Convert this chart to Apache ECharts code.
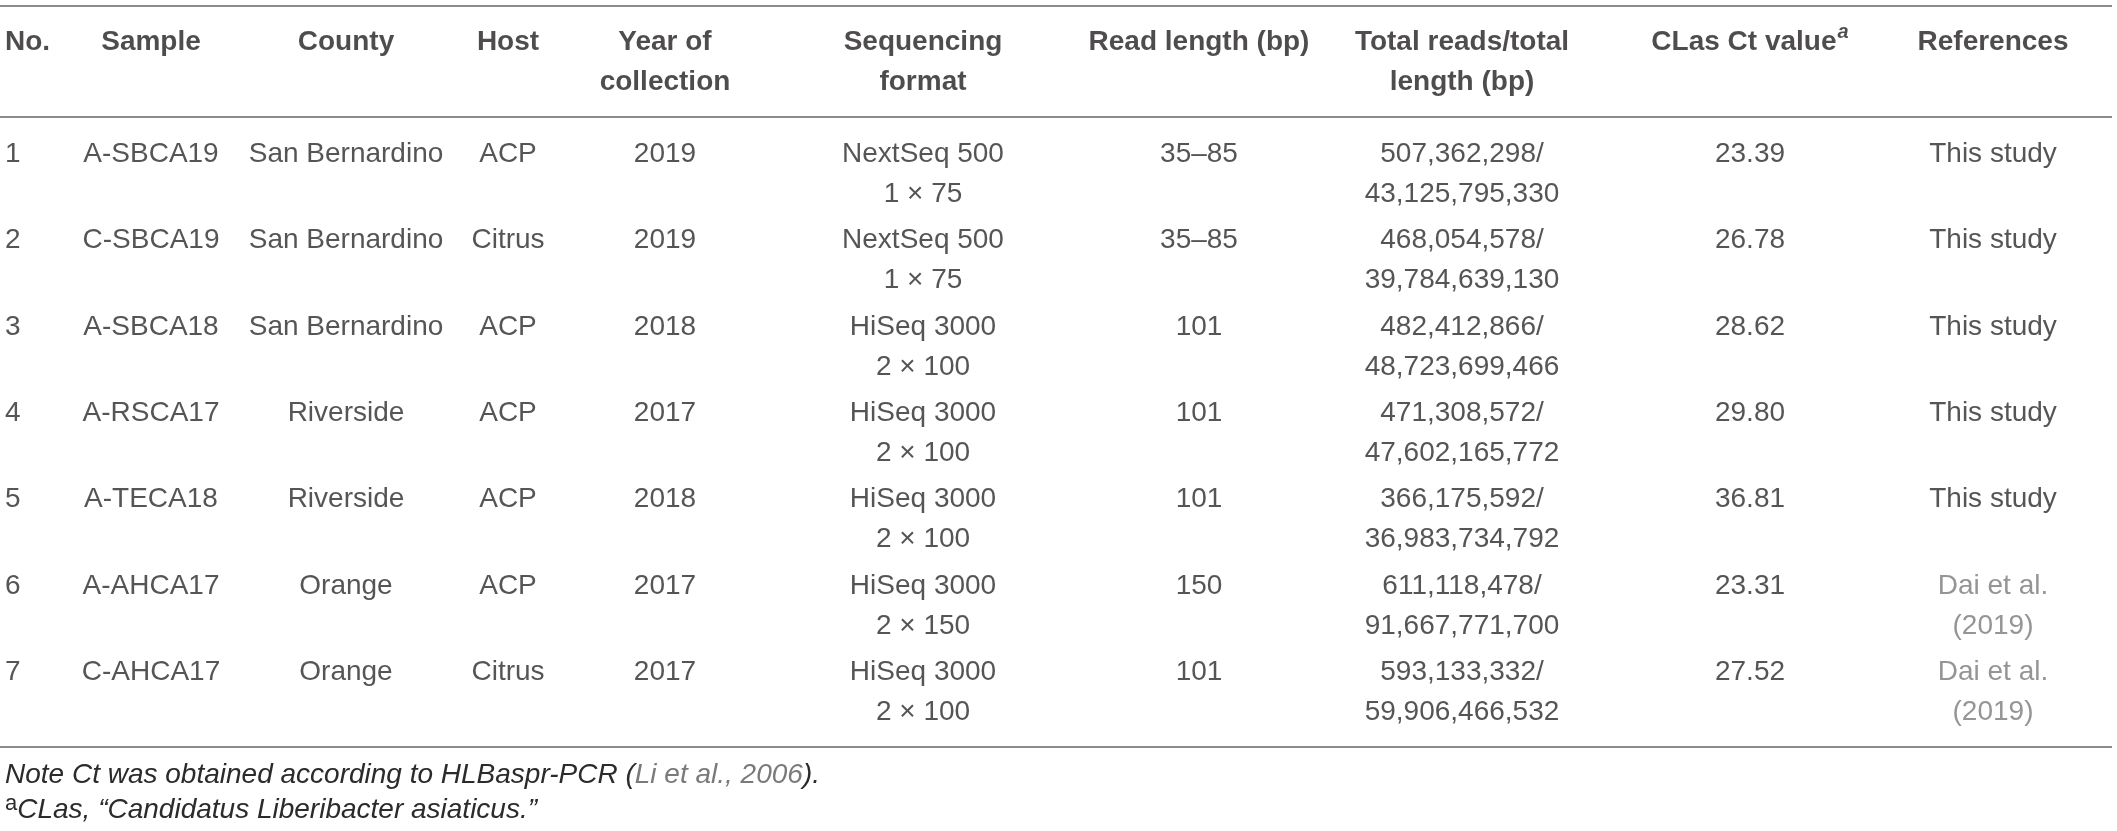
<!DOCTYPE html>
<html>
<head>
<meta charset="utf-8">
<title>Samples table</title>
<script src="https://cdn.jsdelivr.net/npm/echarts@6/dist/echarts.min.js"></script>
<style>
  html, body { margin: 0; padding: 0; background: #fff; }
  #chart { width: 2117px; height: 831px; }
</style>
</head>
<body>
<div id="chart"></div>
<script>
// table content
const headers = ['No.', 'Sample', 'County', 'Host', 'Year of\ncollection', 'Sequencing\nformat',
  'Read length (bp)', 'Total reads/total\nlength (bp)', 'CLas Ct value{sup|a}', 'References'];
const nos = [1, 2, 3, 4, 5, 6, 7];
const samples = ['A-SBCA19', 'C-SBCA19', 'A-SBCA18', 'A-RSCA17', 'A-TECA18', 'A-AHCA17', 'C-AHCA17'];
const counties = ['San Bernardino', 'San Bernardino', 'San Bernardino', 'Riverside', 'Riverside', 'Orange', 'Orange'];
const hosts = ['ACP', 'Citrus', 'ACP', 'ACP', 'ACP', 'ACP', 'Citrus'];
const years = [2019, 2019, 2018, 2017, 2018, 2017, 2017];
const platforms = ['NextSeq 500', 'NextSeq 500', 'HiSeq 3000', 'HiSeq 3000', 'HiSeq 3000', 'HiSeq 3000', 'HiSeq 3000'];
const runFormats = ['1 × 75', '1 × 75', '2 × 100', '2 × 100', '2 × 100', '2 × 150', '2 × 100'];
const readLengths = ['35–85', '35–85', '101', '101', '101', '150', '101'];
const totalReads = ['507,362,298', '468,054,578', '482,412,866', '471,308,572', '366,175,592', '611,118,478', '593,133,332'];
const totalLengths = ['43,125,795,330', '39,784,639,130', '48,723,699,466', '47,602,165,772', '36,983,734,792', '91,667,771,700', '59,906,466,532'];
const ctValues = [23.39, 26.78, 28.62, 29.80, 36.81, 23.31, 27.52];
const references = ['This study', 'This study', 'This study', 'This study', 'This study', 'Dai et al.\n(2019)', 'Dai et al.\n(2019)'];

// layout (column centres in px along x, rows in row units along y)
const COL_X = [5, 151, 346, 508, 665, 923, 1199, 1462, 1750, 1993];
const HEADER_ROW = -1.296;
const RULES = [-1.7245, -0.4282, 6.8634];
const FONT = "'Liberation Sans', Arial, Helvetica, sans-serif";
const INK = '#2b2b2b';
const GREY = '#7a7a7a';

const alignOf = c => (c === 0 ? 'left' : 'center');

const headerData = headers.map((h, c) => ({
  value: [COL_X[c], HEADER_ROW, h],
  label: { align: alignOf(c) }
}));

const bodyData = [];
nos.forEach((n, i) => {
  const cells = [
    String(n), samples[i], counties[i], hosts[i], String(years[i]),
    platforms[i] + '\n' + runFormats[i], readLengths[i],
    totalReads[i] + '/\n' + totalLengths[i], ctValues[i].toFixed(2), references[i]
  ];
  cells.forEach((t, c) => {
    const isCite = c === 9 && references[i] !== 'This study';
    bodyData.push({
      value: [COL_X[c], i, t],
      label: { align: alignOf(c), color: isCite ? GREY : INK }
    });
  });
});

const cellLabel = {
  show: true,
  position: 'inside',
  verticalAlign: 'top',
  offset: [0, -20],
  lineHeight: 40,
  fontSize: 28,
  fontFamily: FONT,
  formatter: p => p.value[2]
};

const chart = echarts.init(document.getElementById('chart'), null, { renderer: 'canvas' });
chart.setOption({
  backgroundColor: '#ffffff',
  animation: false,
  title: {
    left: 5,
    top: 758,
    padding: 0,
    text: 'Note Ct was obtained according to HLBaspr-PCR ({g|Li et al., 2006}).\n{a|a}CLas, “Candidatus Liberibacter asiaticus.”',
    textStyle: {
      fontFamily: FONT, fontSize: 28, fontStyle: 'italic', fontWeight: 'normal', color: INK, lineHeight: 35,
      rich: {
        g: { fontFamily: FONT, fontSize: 28, fontStyle: 'italic', color: GREY, lineHeight: 35 },
        a: { fontFamily: FONT, fontSize: 22, fontStyle: 'normal', color: INK, verticalAlign: 'top', lineHeight: 28 }
      }
    }
  },
  grid: { left: 0, width: 2112, top: 2.8, height: 820.8, containLabel: false },
  xAxis: { type: 'value', min: 0, max: 2112, show: false },
  yAxis: { type: 'value', min: -1.75, max: 7.75, inverse: true, show: false },
  series: [
    {
      name: 'header',
      type: 'scatter',
      symbolSize: 0,
      silent: true,
      data: headerData,
      label: Object.assign({}, cellLabel, {
        fontWeight: 'bold',
        color: '#231f20',
        rich: {
          sup: { fontFamily: FONT, fontSize: 20, fontStyle: 'italic', fontWeight: 'bold', color: '#231f20',
                 verticalAlign: 'top', lineHeight: 27, padding: [0, 0, 0, 1] }
        }
      }),
      markLine: {
        silent: true,
        symbol: ['none', 'none'],
        label: { show: false },
        lineStyle: { type: 'solid', color: '#8c8c8c', width: 2 },
        data: RULES.map(y => ({ yAxis: y }))
      }
    },
    {
      name: 'body',
      type: 'scatter',
      symbolSize: 0,
      silent: true,
      data: bodyData,
      label: Object.assign({}, cellLabel, { color: INK })
    }
  ]
});
</script>
</body>
</html>
